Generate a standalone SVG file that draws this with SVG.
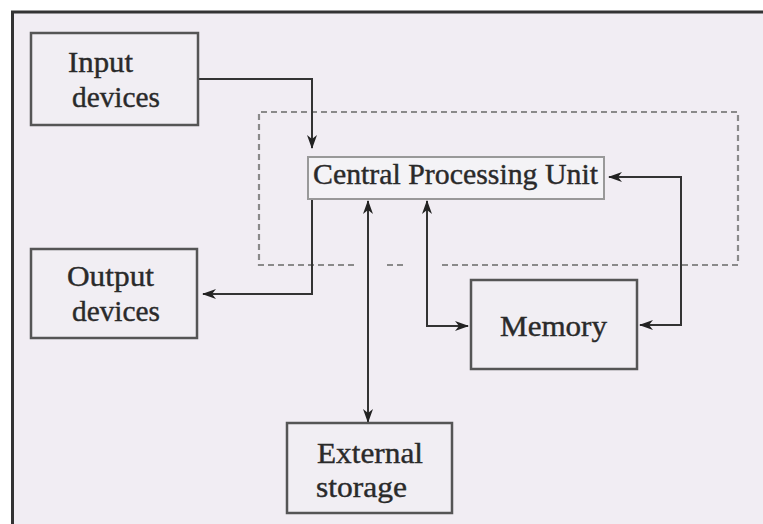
<svg xmlns="http://www.w3.org/2000/svg" width="763" height="524" viewBox="0 0 763 524">
<style>
.box{fill:#f1eef3;stroke:#555;stroke-width:2.5}
.cpu{fill:#f4f3f6;stroke:#999;stroke-width:2}
.t{font-family:"Liberation Serif","Times New Roman",serif;font-size:29px;fill:#2a2a2a;stroke:#2a2a2a;stroke-width:0.4}
.c{fill:none;stroke:#333;stroke-width:2}
.d{fill:none;stroke:#8a8a8a;stroke-width:2.2;stroke-dasharray:6,4}
</style>
<defs>
<marker id="ah" viewBox="0 0 14 10" refX="13" refY="5" markerWidth="14" markerHeight="10" markerUnits="userSpaceOnUse" orient="auto-start-reverse">
<path d="M0,0 L14,5 L0,10 L4,5 z" fill="#222"/>
</marker>
</defs>
<rect x="0" y="0" width="763" height="524" fill="#ffffff"/>
<rect x="12.5" y="12" width="760" height="520" fill="#f1edf3" stroke="#333" stroke-width="3"/>
<g id="cpu-boundary">
<path class="d" d="M354,265 H259 V112 H738 V265 H442 M403,265 H385"/>
</g>
<g id="connectors">
<path class="c" d="M198,79 H312 V148" marker-end="url(#ah)"/>
<path class="c" d="M312,199 V294 H203" marker-end="url(#ah)"/>
<path class="c" d="M368,201 V422" marker-start="url(#ah)" marker-end="url(#ah)"/>
<path class="c" d="M427,201 V326 H468" marker-start="url(#ah)" marker-end="url(#ah)"/>
<path class="c" d="M609,177 H681 V325 H640" marker-start="url(#ah)" marker-end="url(#ah)"/>
</g>
<g id="input">
<rect class="box" x="31" y="33" width="167" height="92"/>
<text class="t" x="68" y="72" textLength="65" lengthAdjust="spacingAndGlyphs">Input</text>
<text class="t" x="72" y="107" textLength="88" lengthAdjust="spacingAndGlyphs">devices</text>
</g>
<g id="output">
<rect class="box" x="31" y="249" width="166" height="89"/>
<text class="t" x="67" y="286" textLength="87" lengthAdjust="spacingAndGlyphs">Output</text>
<text class="t" x="72" y="321" textLength="88" lengthAdjust="spacingAndGlyphs">devices</text>
</g>
<g id="cpu">
<rect class="cpu" x="308" y="157" width="296" height="42"/>
<text class="t" x="313" y="184" textLength="285" lengthAdjust="spacingAndGlyphs">Central Processing Unit</text>
</g>
<g id="memory">
<rect class="box" x="471" y="280" width="166" height="89"/>
<text class="t" x="500" y="336" textLength="107" lengthAdjust="spacingAndGlyphs">Memory</text>
</g>
<g id="external">
<rect class="box" x="287" y="423" width="165" height="90"/>
<text class="t" x="317" y="463" textLength="106" lengthAdjust="spacingAndGlyphs">External</text>
<text class="t" x="316" y="497" textLength="91" lengthAdjust="spacingAndGlyphs">storage</text>
</g>
</svg>
